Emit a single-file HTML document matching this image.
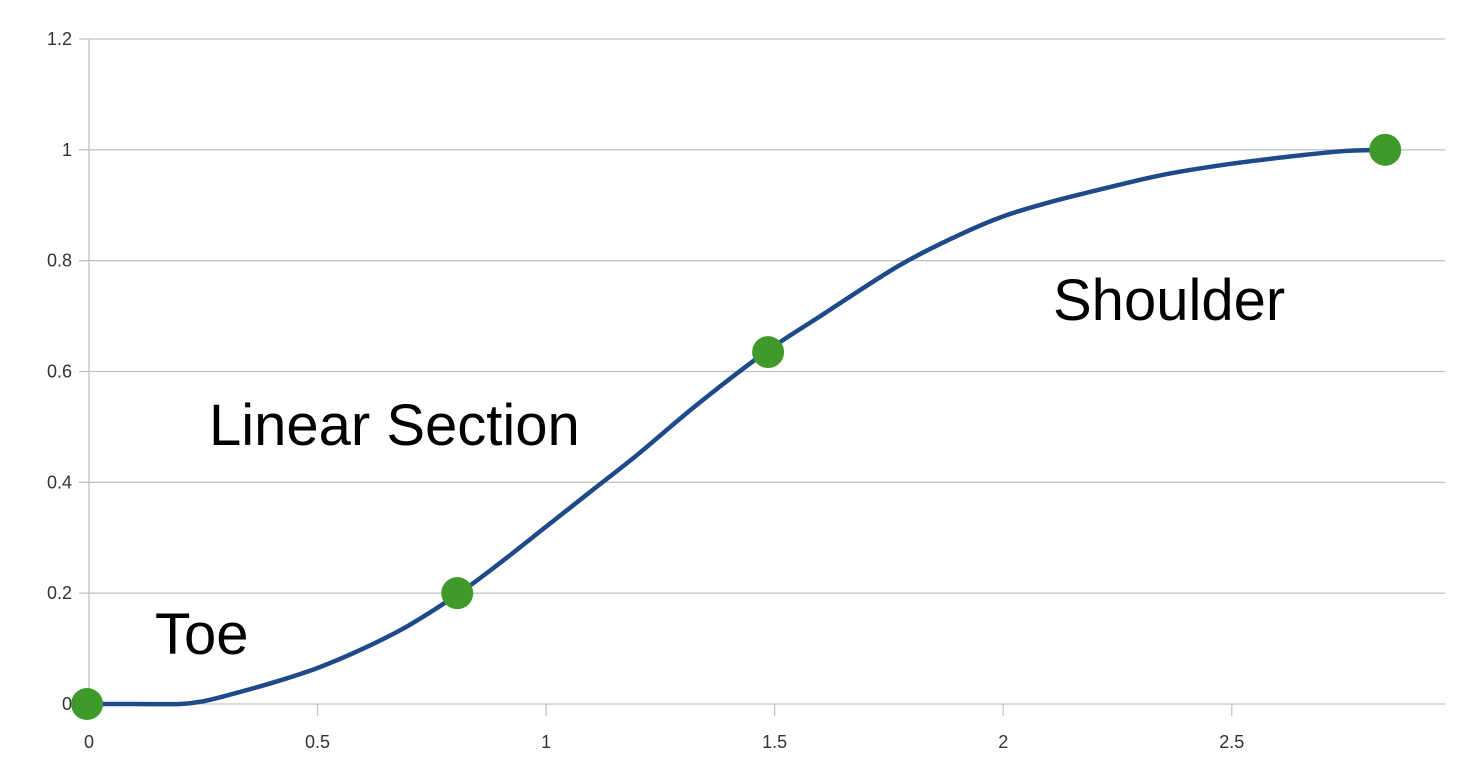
<!DOCTYPE html>
<html><head><meta charset="utf-8"><style>
html,body{margin:0;padding:0;background:#fff}
svg{display:block}
text{font-family:"Liberation Sans",sans-serif}
</style></head><body>
<svg id="chart" width="1472" height="782">
<g id="grid"></g>
<g id="axes"></g>
<g id="series"></g>
<g id="labels">
<text x="155" y="654" font-size="58" fill="#000">Toe</text>
<text x="209" y="445" font-size="58" fill="#000">Linear Section</text>
<text x="1053" y="320" font-size="58" fill="#000">Shoulder</text>
</g>
</svg>
<script>
const xTicks=[0,0.5,1,1.5,2,2.5];
const xTickLabels=["0","0.5","1","1.5","2","2.5"];
const yTicks=[0,0.2,0.4,0.6,0.8,1,1.2];
const yTickLabels=["0","0.2","0.4","0.6","0.8","1","1.2"];
const curveX=[0,0.1,0.2,0.25,0.3,0.4,0.5,0.6,0.7,0.81,0.9,1.0,1.1,1.2,1.33,1.48,1.6,1.77,1.9,2.0,2.1,2.21,2.35,2.5,2.65,2.75,2.84];
const curveY=[0,0,0,0.005,0.015,0.038,0.065,0.1,0.142,0.2,0.255,0.32,0.385,0.45,0.54,0.635,0.7,0.79,0.845,0.88,0.905,0.928,0.955,0.975,0.99,0.998,1.0];
const markerX=[0,0.81,1.49,2.84];
const markerY=[0,0.2,0.635,1.0];
const NS="http://www.w3.org/2000/svg";
const X0=89,X1=1445,Y0=704,Y1=39;
const sx=v=>X0+v*457.1;
const sy=v=>Y0-v*(Y0-Y1)/1.2;
function mk(tag,attrs,parent){const e=document.createElementNS(NS,tag);for(const k in attrs)e.setAttribute(k,attrs[k]);parent.appendChild(e);return e;}
const grid=document.getElementById('grid'),axes=document.getElementById('axes'),series=document.getElementById('series');
yTicks.forEach((t,i)=>{
 const l=mk('line',{x1:79,x2:X1,y1:sy(t),y2:sy(t),stroke:'#c4c4c4','stroke-width':1.3},grid);
 
 
 const tx=mk('text',{x:72,y:sy(t)+6,'text-anchor':'end','font-size':18,fill:'#333'},axes);
 tx.textContent=yTickLabels[i];
 
 
});
const ya=mk('line',{x1:X0,x2:X0,y1:Y1,y2:Y0+12,stroke:'#c4c4c4','stroke-width':1.3},axes);


xTicks.forEach((t,i)=>{
 if(i>0){const l=mk('line',{x1:sx(t),x2:sx(t),y1:Y0,y2:Y0+12,stroke:'#c4c4c4','stroke-width':1.3},axes);
 
 }
 const tx=mk('text',{x:sx(t),y:Y0+44,'text-anchor':'middle','font-size':18,fill:'#333'},axes);
 tx.textContent=xTickLabels[i];
 
 
});
const pts=curveX.map((x,i)=>[sx(x),sy(curveY[i])]);
let d='M'+pts[0][0]+','+pts[0][1];
for(let i=0;i<pts.length-1;i++){
 const p0=pts[Math.max(0,i-1)],p1=pts[i],p2=pts[i+1],p3=pts[Math.min(pts.length-1,i+2)];
 const c1=[p1[0]+(p2[0]-p0[0])/6,p1[1]+(p2[1]-p0[1])/6],c2=[p2[0]-(p3[0]-p1[0])/6,p2[1]-(p3[1]-p1[1])/6];
 d+=`C${c1[0]},${c1[1]} ${c2[0]},${c2[1]} ${p2[0]},${p2[1]}`;
}
const path=mk('path',{d:d,fill:'none',stroke:'#1f4a8a','stroke-width':4.5},series);


markerX.forEach((x,i)=>{
 const c=mk('circle',{cx:sx(x)-2,cy:sy(markerY[i]),r:16,fill:'#3f9a29'},series);
 
 
});
</script>
</body></html>
